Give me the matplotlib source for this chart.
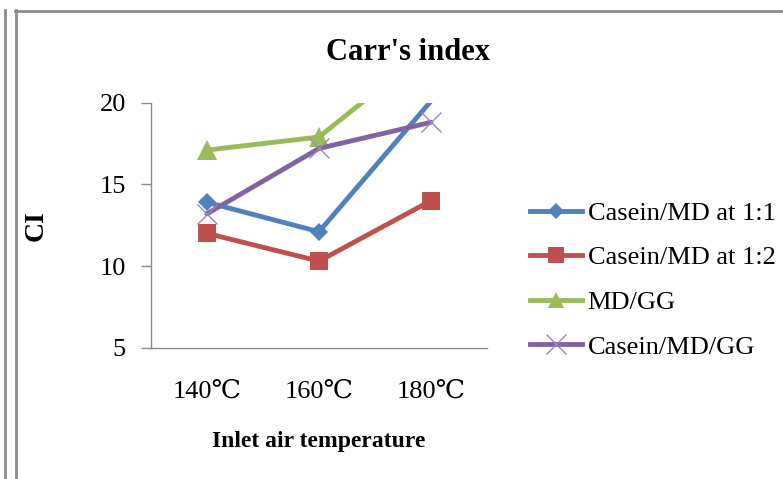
import numpy as np
import matplotlib.pyplot as plt
from matplotlib.lines import Line2D

# Carr's index (CI) by inlet air temperature
temps = ['140℃', '160℃', '180℃']
casein_md_11 = [13.9, 12.1, 20.1]
casein_md_12 = [12.0, 10.3, 14.0]
md_gg = [17.1, 17.9, 23.4]
casein_md_gg = [13.2, 17.2, 18.8]

labels = ['Casein/MD at 1:1', 'Casein/MD at 1:2', 'MD/GG', 'Casein/MD/GG']
colors = ['#4F81BD', '#C0504D', '#9BBB59', '#8064A2']
markers = ['D', 's', '^', 'x']
msizes = [9.5, 13, 14, 14]

serif = ['Liberation Serif', 'DejaVu Serif', 'DejaVu Sans']
plt.rcParams['font.family'] = serif

fig = plt.figure(figsize=(7.83, 4.79), dpi=100)
ax = fig.add_axes([151 / 783, 1 - 347.7 / 479, 336 / 783, 245 / 479])

x = np.arange(len(temps))
ymax = 20
for vals, lab, c, m, ms in zip([casein_md_11, casein_md_12, md_gg, casein_md_gg],
                               labels, colors, markers, msizes):
    vals = np.array(vals, dtype=float)
    ax.plot(x, vals, color=c, lw=3.5, solid_capstyle='round')
    # points above the axis maximum get no marker
    shown = np.where(vals <= ymax, vals, np.nan)
    if m == 'x':
        ax.plot(x, shown, ls='none', marker=m, ms=ms, mew=1.0, color='#9A86BC')
    else:
        ax.plot(x, shown, ls='none', marker=m, ms=ms, mew=0, color=c)

ax.set_xlim(-0.5, 2.5)
ax.set_ylim(5, ymax)
ax.set_yticks([5, 10, 15, 20])
ax.set_xticks(x)
ax.set_xticklabels(temps)

for s in ['top', 'right']:
    ax.spines[s].set_visible(False)
for s in ['left', 'bottom']:
    ax.spines[s].set_color('#8a8a8a')
    ax.spines[s].set_linewidth(1.0)

ax.tick_params(axis='y', length=7, width=1.0, color='#8a8a8a', pad=11, labelsize=19)
ax.tick_params(axis='x', length=0, pad=24, labelsize=19)

ax.set_ylabel('CI', fontsize=20, fontweight='bold')
ax.yaxis.set_label_coords(-0.305, 0.5)
ax.set_xlabel('Inlet air temperature', fontsize=17, fontweight='bold')
ax.xaxis.set_label_coords(0.5, -0.34)

fig.text(0.521, 1 - 52 / 479, "Carr's index", ha='center', va='center',
         fontsize=22, fontweight='bold')

# legend on the right
handles = []
for lab, c, m, ms in zip(labels, colors, markers, msizes):
    if m == 'x':
        handles.append(Line2D([], [], color=c, lw=3.5, marker=m, ms=ms, mew=1.0,
                              mec='#9A86BC'))
    else:
        handles.append(Line2D([], [], color=c, lw=3.5, marker=m, ms=ms * 0.85, mew=0))
fig.legend(handles, labels, loc='center left', bbox_to_anchor=(519 / 783, 1 - 280 / 479),
           frameon=False, fontsize=19, handlelength=2.0, handletextpad=0.2,
           labelspacing=0.8, borderaxespad=0)

# outer chart frame
frame = dict(color='#8c8c8c', lw=2.0, transform=fig.transFigure, clip_on=False)
fig.add_artist(Line2D([4.5 / 783, 4.5 / 783], [1 - 10 / 479, 0], **frame))
fig.add_artist(Line2D([15.5 / 783, 15.5 / 783], [1 - 10 / 479, 0], **frame))
fig.add_artist(Line2D([15 / 783, 1], [1 - 11 / 479, 1 - 11 / 479], **frame))

fig.savefig('out.png', dpi=100)
